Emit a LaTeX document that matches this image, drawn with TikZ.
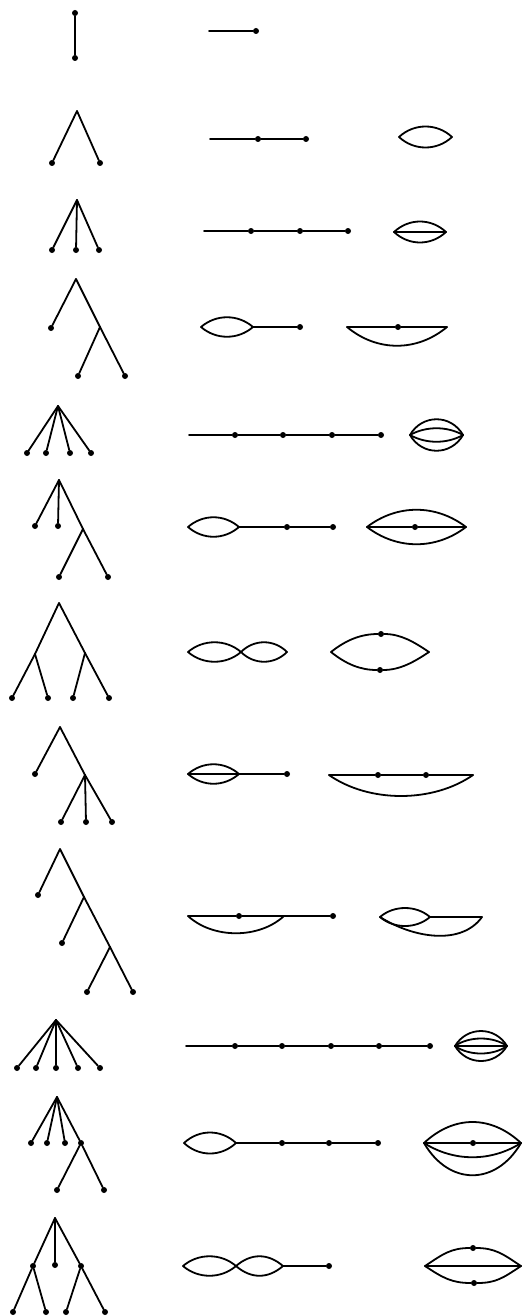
\documentclass[tikz,border=0pt]{standalone}
\begin{document}
\begin{tikzpicture}[x=1pt, y=-1pt,
  dot/.style={circle, fill, inner sep=0pt, minimum size=6pt},
  edge/.style={line width=1.8pt, line join=round, line cap=round}]
\useasboundingbox (0,0) rectangle (525,1316);
% row 1
\node[dot] (t1a) at (75,13) {};
\node[dot] (t1b) at (75,58) {};
\coordinate (m1a) at (209,31);
\node[dot] (m1b) at (256,31) {};
\draw[edge] (t1a) -- (t1b);
\draw[edge] (m1a) -- (m1b);
% row 2
\coordinate (t2r) at (77,111);
\node[dot] (t2a) at (52,163) {};
\node[dot] (t2b) at (100,163) {};
\coordinate (m2a) at (210,139);
\node[dot] (m2b) at (258,139) {};
\node[dot] (m2c) at (306,139) {};
\coordinate (g2a) at (399,137);
\coordinate (g2b) at (452,137);
\draw[edge] (t2r) -- (t2a);
\draw[edge] (t2r) -- (t2b);
\draw[edge] (m2a) -- (m2b);
\draw[edge] (m2b) -- (m2c);
\draw[edge] (g2a) .. controls +(15,-14) and +(-15,-14) .. (g2b);
\draw[edge] (g2a) .. controls +(15,14) and +(-15,14) .. (g2b);
% row 3
\coordinate (t3r) at (77,200);
\node[dot] (t3a) at (52,250) {};
\node[dot] (t3b) at (76,250) {};
\node[dot] (t3c) at (99,250) {};
\coordinate (m3a) at (204,231);
\node[dot] (m3b) at (251,231) {};
\node[dot] (m3c) at (300,231) {};
\node[dot] (m3d) at (348,231) {};
\coordinate (g3a) at (394,232);
\coordinate (g3b) at (446,232);
\draw[edge] (t3r) -- (t3a);
\draw[edge] (t3r) -- (t3b);
\draw[edge] (t3r) -- (t3c);
\draw[edge] (m3a) -- (m3b);
\draw[edge] (m3b) -- (m3c);
\draw[edge] (m3c) -- (m3d);
\draw[edge] (g3a) .. controls +(15,-14) and +(-15,-14) .. (g3b);
\draw[edge] (g3a) -- (g3b);
\draw[edge] (g3a) .. controls +(15,14) and +(-15,14) .. (g3b);
% row 4
\coordinate (t4r) at (76,279);
\node[dot] (t4a) at (51,328) {};
\coordinate (t4s) at (100,327);
\node[dot] (t4b) at (78,376) {};
\node[dot] (t4c) at (125,376) {};
\coordinate (m4a) at (201,327);
\coordinate (m4b) at (253,327);
\node[dot] (m4c) at (300,327) {};
\coordinate (g4a) at (347,327);
\node[dot] (g4b) at (398,327) {};
\coordinate (g4c) at (447,327);
\draw[edge] (t4r) -- (t4a);
\draw[edge] (t4r) -- (t4s);
\draw[edge] (t4s) -- (t4b);
\draw[edge] (t4s) -- (t4c);
\draw[edge] (m4a) .. controls +(15,-13) and +(-15,-13) .. (m4b);
\draw[edge] (m4a) .. controls +(15,13) and +(-15,13) .. (m4b);
\draw[edge] (m4b) -- (m4c);
\draw[edge] (g4a) -- (g4b);
\draw[edge] (g4b) -- (g4c);
\draw[edge] (g4a) .. controls +(30,25) and +(-30,25) .. (g4c);
% row 5
\coordinate (t5r) at (58,406);
\node[dot] (t5a) at (27,453) {};
\node[dot] (t5b) at (46,453) {};
\node[dot] (t5c) at (70,453) {};
\node[dot] (t5d) at (91,453) {};
\coordinate (m5a) at (189,435);
\node[dot] (m5b) at (235,435) {};
\node[dot] (m5c) at (283,435) {};
\node[dot] (m5d) at (332,435) {};
\node[dot] (m5e) at (381,435) {};
\coordinate (g5a) at (410,435);
\coordinate (g5b) at (463,435);
\draw[edge] (t5r) -- (t5a);
\draw[edge] (t5r) -- (t5b);
\draw[edge] (t5r) -- (t5c);
\draw[edge] (t5r) -- (t5d);
\draw[edge] (m5a) -- (m5b);
\draw[edge] (m5b) -- (m5c);
\draw[edge] (m5c) -- (m5d);
\draw[edge] (m5d) -- (m5e);
\draw[edge] (g5a) .. controls +(12,-21) and +(-12,-21) .. (g5b);
\draw[edge] (g5a) .. controls +(16,-9) and +(-16,-9) .. (g5b);
\draw[edge] (g5a) .. controls +(16,9) and +(-16,9) .. (g5b);
\draw[edge] (g5a) .. controls +(12,21) and +(-12,21) .. (g5b);
% row 6
\coordinate (t6r) at (59,480);
\node[dot] (t6a) at (35,526) {};
\node[dot] (t6b) at (58,526) {};
\coordinate (t6s) at (83,529);
\node[dot] (t6c) at (59,577) {};
\node[dot] (t6d) at (108,577) {};
\coordinate (m6a) at (188,527);
\coordinate (m6b) at (239,527);
\node[dot] (m6c) at (287,527) {};
\node[dot] (m6d) at (333,527) {};
\coordinate (g6a) at (367,527);
\node[dot] (g6b) at (415,527) {};
\coordinate (g6c) at (466,527);
\draw[edge] (t6r) -- (t6a);
\draw[edge] (t6r) -- (t6b);
\draw[edge] (t6r) -- (t6s);
\draw[edge] (t6s) -- (t6c);
\draw[edge] (t6s) -- (t6d);
\draw[edge] (m6a) .. controls +(15,-13) and +(-15,-13) .. (m6b);
\draw[edge] (m6a) .. controls +(15,13) and +(-15,13) .. (m6b);
\draw[edge] (m6b) -- (m6c);
\draw[edge] (m6c) -- (m6d);
\draw[edge] (g6a) .. controls +(30,-23) and +(-30,-23) .. (g6c);
\draw[edge] (g6a) -- (g6b);
\draw[edge] (g6b) -- (g6c);
\draw[edge] (g6a) .. controls +(30,23) and +(-30,23) .. (g6c);
% row 7
\coordinate (t7r) at (59,603);
\coordinate (t7s) at (35,654);
\coordinate (t7u) at (85,653);
\node[dot] (t7a) at (12,698) {};
\node[dot] (t7b) at (48,698) {};
\node[dot] (t7c) at (73,698) {};
\node[dot] (t7d) at (109,698) {};
\coordinate (m7a) at (188,652);
\coordinate (m7b) at (241,652);
\coordinate (m7c) at (287,652);
\coordinate (g7a) at (331,652);
\node[dot] (g7t) at (381,634) {};
\coordinate (g7c) at (429,652);
\node[dot] (g7b) at (380,670) {};
\draw[edge] (t7r) -- (t7s);
\draw[edge] (t7r) -- (t7u);
\draw[edge] (t7s) -- (t7a);
\draw[edge] (t7s) -- (t7b);
\draw[edge] (t7u) -- (t7c);
\draw[edge] (t7u) -- (t7d);
\draw[edge] (m7a) .. controls +(15,-13) and +(-15,-13) .. (m7b);
\draw[edge] (m7a) .. controls +(15,13) and +(-15,13) .. (m7b);
\draw[edge] (m7b) .. controls +(13,-13) and +(-13,-13) .. (m7c);
\draw[edge] (m7b) .. controls +(13,13) and +(-13,13) .. (m7c);
\draw[edge] (g7a) .. controls +(15,-12) and +(-20,0) .. (g7t);
\draw[edge] (g7t) .. controls +(20,0) and +(-15,-10) .. (g7c);
\draw[edge] (g7a) .. controls +(15,12) and +(-20,0) .. (g7b);
\draw[edge] (g7b) .. controls +(20,0) and +(-15,10) .. (g7c);
% row 8
\coordinate (t8r) at (60,727);
\node[dot] (t8a) at (35,774) {};
\coordinate (t8s) at (85,775);
\node[dot] (t8b) at (61,822) {};
\node[dot] (t8c) at (86,822) {};
\node[dot] (t8d) at (112,822) {};
\coordinate (m8a) at (188,774);
\coordinate (m8b) at (239,774);
\node[dot] (m8c) at (287,774) {};
\coordinate (g8a) at (329,775);
\node[dot] (g8b) at (378,775) {};
\node[dot] (g8c) at (426,775) {};
\coordinate (g8d) at (473,775);
\draw[edge] (t8r) -- (t8a);
\draw[edge] (t8r) -- (t8s);
\draw[edge] (t8s) -- (t8b);
\draw[edge] (t8s) -- (t8c);
\draw[edge] (t8s) -- (t8d);
\draw[edge] (m8a) .. controls +(15,-13) and +(-15,-13) .. (m8b);
\draw[edge] (m8a) -- (m8b);
\draw[edge] (m8a) .. controls +(15,13) and +(-15,13) .. (m8b);
\draw[edge] (m8b) -- (m8c);
\draw[edge] (g8a) -- (g8b);
\draw[edge] (g8b) -- (g8c);
\draw[edge] (g8c) -- (g8d);
\draw[edge] (g8a) .. controls +(40,28) and +(-40,28) .. (g8d);
% row 9
\coordinate (t9r) at (60,849);
\node[dot] (t9a) at (38,895) {};
\coordinate (t9s) at (84,897);
\node[dot] (t9b) at (62,943) {};
\coordinate (t9u) at (110,947);
\node[dot] (t9c) at (87,992) {};
\node[dot] (t9d) at (133,992) {};
\coordinate (m9a) at (188,916);
\node[dot] (m9b) at (239,916) {};
\coordinate (m9c) at (284,916);
\node[dot] (m9d) at (333,916) {};
\coordinate (g9a) at (380,917);
\coordinate (g9b) at (430,917);
\coordinate (g9c) at (482,917);
\draw[edge] (t9r) -- (t9a);
\draw[edge] (t9r) -- (t9s);
\draw[edge] (t9s) -- (t9b);
\draw[edge] (t9s) -- (t9u);
\draw[edge] (t9u) -- (t9c);
\draw[edge] (t9u) -- (t9d);
\draw[edge] (m9a) -- (m9b);
\draw[edge] (m9b) -- (m9c);
\draw[edge] (m9c) -- (m9d);
\draw[edge] (m9a) .. controls +(25,23) and +(-25,23) .. (m9c);
\draw[edge] (g9a) .. controls +(14,-12) and +(-14,-12) .. (g9b);
\draw[edge] (g9a) .. controls +(14,12) and +(-14,12) .. (g9b);
\draw[edge] (g9b) -- (g9c);
\draw[edge] (g9a) .. controls +(35,22) and +(-20,28) .. (g9c);
% row 10
\coordinate (t10r) at (56,1020);
\node[dot] (t10a) at (17,1068) {};
\node[dot] (t10b) at (36,1068) {};
\node[dot] (t10c) at (56,1068) {};
\node[dot] (t10d) at (78,1068) {};
\node[dot] (t10e) at (100,1068) {};
\coordinate (m10a) at (186,1046);
\node[dot] (m10b) at (235,1046) {};
\node[dot] (m10c) at (282,1046) {};
\node[dot] (m10d) at (331,1046) {};
\node[dot] (m10e) at (379,1046) {};
\node[dot] (m10f) at (430,1046) {};
\coordinate (g10a) at (455,1046);
\coordinate (g10b) at (507,1046);
\draw[edge] (t10r) -- (t10a);
\draw[edge] (t10r) -- (t10b);
\draw[edge] (t10r) -- (t10c);
\draw[edge] (t10r) -- (t10d);
\draw[edge] (t10r) -- (t10e);
\draw[edge] (m10a) -- (m10b);
\draw[edge] (m10b) -- (m10c);
\draw[edge] (m10c) -- (m10d);
\draw[edge] (m10d) -- (m10e);
\draw[edge] (m10e) -- (m10f);
\draw[edge] (g10a) .. controls +(12,-20) and +(-12,-20) .. (g10b);
\draw[edge] (g10a) .. controls +(14,-10) and +(-14,-10) .. (g10b);
\draw[edge] (g10a) -- (g10b);
\draw[edge] (g10a) .. controls +(14,10) and +(-14,10) .. (g10b);
\draw[edge] (g10a) .. controls +(12,20) and +(-12,20) .. (g10b);
% row 11
\coordinate (t11r) at (57,1097);
\node[dot] (t11a) at (31,1143) {};
\node[dot] (t11b) at (47,1143) {};
\node[dot] (t11c) at (65,1143) {};
\node[dot] (t11s) at (81,1143) {};
\node[dot] (t11d) at (57,1190) {};
\node[dot] (t11e) at (104,1190) {};
\coordinate (m11a) at (184,1143);
\coordinate (m11b) at (236,1143);
\node[dot] (m11c) at (282,1143) {};
\node[dot] (m11d) at (329,1143) {};
\node[dot] (m11e) at (378,1143) {};
\coordinate (g11a) at (424,1143);
\node[dot] (g11b) at (473,1143) {};
\coordinate (g11c) at (521,1143);
\draw[edge] (t11r) -- (t11a);
\draw[edge] (t11r) -- (t11b);
\draw[edge] (t11r) -- (t11c);
\draw[edge] (t11r) -- (t11s);
\draw[edge] (t11s) -- (t11d);
\draw[edge] (t11s) -- (t11e);
\draw[edge] (m11a) .. controls +(15,-14) and +(-15,-14) .. (m11b);
\draw[edge] (m11a) .. controls +(15,14) and +(-15,14) .. (m11b);
\draw[edge] (m11b) -- (m11c);
\draw[edge] (m11c) -- (m11d);
\draw[edge] (m11d) -- (m11e);
\draw[edge] (g11a) .. controls +(30,-28) and +(-30,-28) .. (g11c);
\draw[edge] (g11a) -- (g11b);
\draw[edge] (g11b) -- (g11c);
\draw[edge] (g11a) .. controls +(30,19) and +(-30,19) .. (g11c);
\draw[edge] (g11a) .. controls +(25,43) and +(-25,43) .. (g11c);
% row 12
\coordinate (t12r) at (55,1218);
\node[dot] (t12s) at (33,1266) {};
\node[dot] (t12m) at (55,1265) {};
\node[dot] (t12u) at (81,1266) {};
\node[dot] (t12a) at (13,1312) {};
\node[dot] (t12b) at (46,1312) {};
\node[dot] (t12c) at (66,1312) {};
\node[dot] (t12d) at (105,1312) {};
\coordinate (m12a) at (183,1266);
\coordinate (m12b) at (236,1266);
\coordinate (m12c) at (283,1266);
\node[dot] (m12d) at (329,1266) {};
\coordinate (g12a) at (425,1266);
\node[dot] (g12t) at (473,1248) {};
\node[dot] (g12b) at (474,1283) {};
\coordinate (g12c) at (521,1266);
\draw[edge] (t12r) -- (t12s);
\draw[edge] (t12r) -- (t12m);
\draw[edge] (t12r) -- (t12u);
\draw[edge] (t12s) -- (t12a);
\draw[edge] (t12s) -- (t12b);
\draw[edge] (t12u) -- (t12c);
\draw[edge] (t12u) -- (t12d);
\draw[edge] (m12a) .. controls +(15,-13) and +(-15,-13) .. (m12b);
\draw[edge] (m12a) .. controls +(15,13) and +(-15,13) .. (m12b);
\draw[edge] (m12b) .. controls +(15,-13) and +(-15,-13) .. (m12c);
\draw[edge] (m12b) .. controls +(15,13) and +(-15,13) .. (m12c);
\draw[edge] (m12c) -- (m12d);
\draw[edge] (g12a) -- (g12c);
\draw[edge] (g12a) .. controls +(18,-12) and +(-22,0) .. (g12t);
\draw[edge] (g12t) .. controls +(22,0) and +(-18,-12) .. (g12c);
\draw[edge] (g12a) .. controls +(18,12) and +(-22,0) .. (g12b);
\draw[edge] (g12b) .. controls +(22,0) and +(-18,12) .. (g12c);
\end{tikzpicture}
\end{document}
